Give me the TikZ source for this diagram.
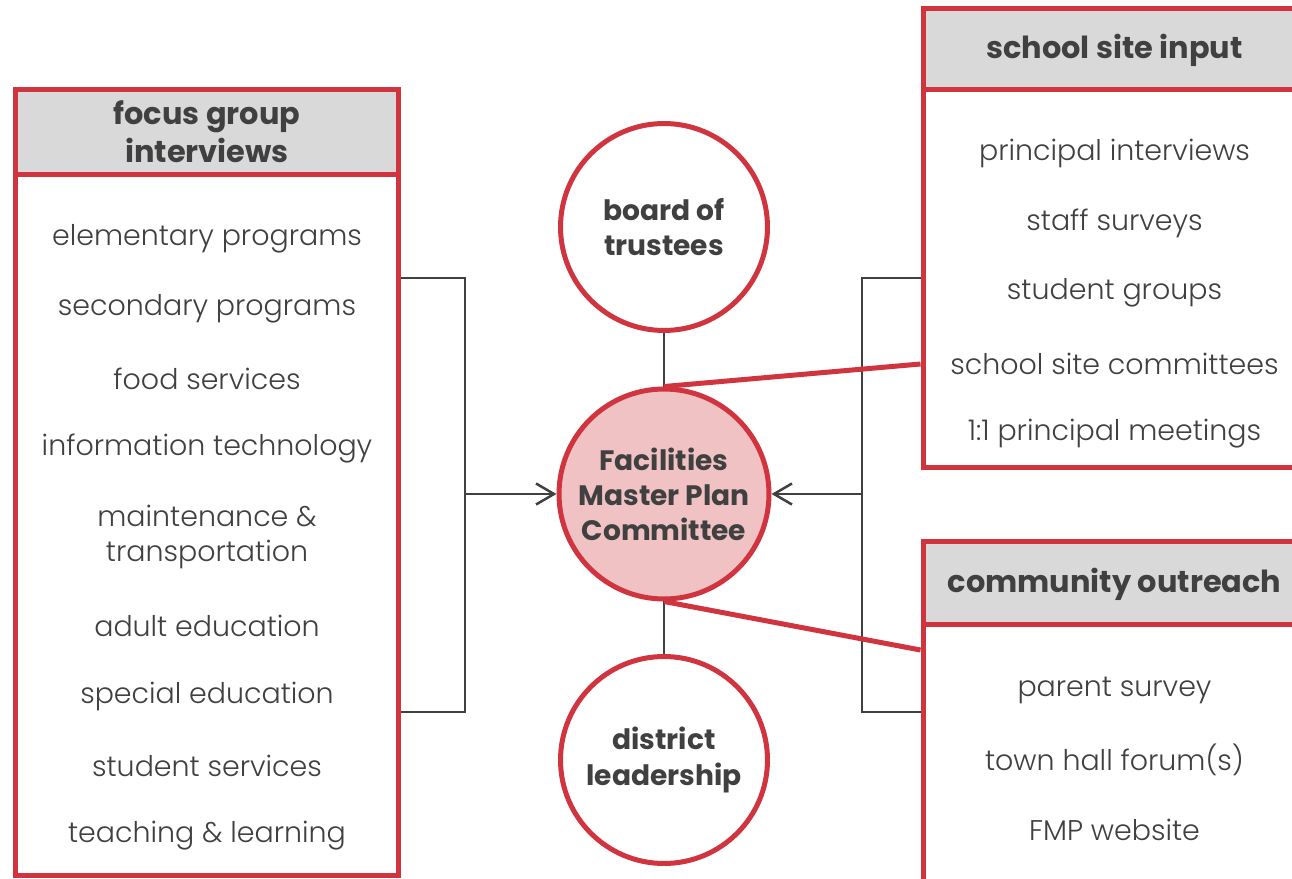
\documentclass[tikz,border=0pt]{standalone}
\usepackage{fontspec}
\setmainfont{Poppins}[UprightFont=*-Light, BoldFont=*-Bold]
\usetikzlibrary{positioning, arrows.meta}
\definecolor{fmpred}{RGB}{208,52,62}
\definecolor{headgray}{RGB}{217,217,217}
\definecolor{inkgray}{RGB}{64,64,64}
\definecolor{fmppink}{RGB}{240,194,196}
\tikzset{
  listbox/.style = {
    rectangle, draw=fmpred, line width=0.1cm, minimum width=7.66cm,
  },
  listhead/.style = {
    rectangle, fill=headgray, minimum width=7.66cm,
    text=inkgray, font=\bfseries\fontsize{17.3}{21.5}\selectfont, align=center,
  },
  item/.style = {
    text=inkgray, font=\fontsize{16.2}{19.5}\selectfont, align=center,
  },
  bubble/.style = {
    circle, draw=fmpred, line width=0.1cm, minimum size=4.14cm,
    text=inkgray, font=\bfseries\fontsize{16}{20}\selectfont, align=center,
  },
  link/.style = {draw=inkgray, line width=0.05cm},
  arrow/.style = {link, -{Straight Barb[length=0.36cm, width=0.42cm, line width=0.05cm]}},
  redlink/.style = {draw=fmpred, line width=0.1cm},
}

\begin{document}
\begin{tikzpicture}[x=0.02cm, y=-0.02cm]
    \useasboundingbox (0,0) rectangle (1292,879);
    % --- Headers ---
    \node[listhead, minimum height=1.7cm]  (fghead)   at (207,131.5)    {focus group\\interviews};
    \node[listhead, minimum height=1.62cm] (sitehead) at (1114.5,50.5)  {school site input};
    \node[listhead, minimum height=1.66cm] (comhead)  at (1114.5,584.5) {community outreach};

    % --- Boxes ---
    \node[listbox, minimum height=15.74cm] (fgbox)   at (207,482.5)  {};
    \node[listbox, minimum height=9.2cm]   (sitebox) at (1114.5,238) {};
    \node[listbox, minimum height=7.58cm]  (combox)  at (1114.5,730.5) {};
    \draw[redlink] (fghead.south west)   -- (fghead.south east);
    \draw[redlink] ([yshift=0.04cm]sitehead.south west) -- ([yshift=0.04cm]sitehead.south east);
    \draw[redlink] ([yshift=0.04cm]comhead.south west)  -- ([yshift=0.04cm]comhead.south east);

    % --- Items ---
    \foreach \txt/\y [count=\i] in {elementary programs/239, secondary programs/309,
        food services/379, information technology/449,
        maintenance \&\\transportation/537, adult education/626,
        special education/696, student services/766, teaching \& learning/836}
      \node[item] (fg\i) at (207,\y) {\txt};
    \foreach \txt/\y [count=\i] in {principal interviews/153, staff surveys/223,
        student groups/293, school site committees/364, 1:1 principal meetings/434}
      \node[item] (site\i) at (1114.5,\y) {\txt};
    \foreach \txt/\y [count=\i] in {parent survey/690, town hall forum(s)/760, FMP website/830}
      \node[item] (com\i) at (1114.5,\y) {\txt};

    % --- Circles ---
    \node[bubble] (board)    at (664,227) {board of\\trustees};
    \node[bubble, fill=fmppink, minimum size=4.2cm] (fmp) at (664,494) {Facilities\\Master Plan\\Committee};
    \node[bubble] (district) at (664,760) {district\\leadership};

    % --- Connectors ---
    \coordinate (lt) at (465,278);
    \coordinate (lb) at (465,712);
    \coordinate (rt) at (862,278);
    \coordinate (rb) at (862,712);
    \coordinate (sj) at (923,364);
    \coordinate (cj) at (923,650);
    \draw[link] (fgbox.east |- lt) -- (lt) -- (lb) -- (fgbox.east |- lb);
    \draw[link] (sitebox.west |- rt) -- (rt) -- (rb) -- (combox.west |- rb);
    \draw[arrow] (lt |- fmp) -- (fmp.west);
    \draw[arrow] (rt |- fmp) -- (fmp.east);
    \draw[link] (board.south) -- (fmp.north);
    \draw[link] (fmp.south) -- (district.north);
    % red ties to the right boxes
    \draw[redlink] (fmp.north) -- (sitebox.west |- sj);
    \draw[redlink] (fmp.south) -- (combox.west |- cj);
\end{tikzpicture}
\end{document}
